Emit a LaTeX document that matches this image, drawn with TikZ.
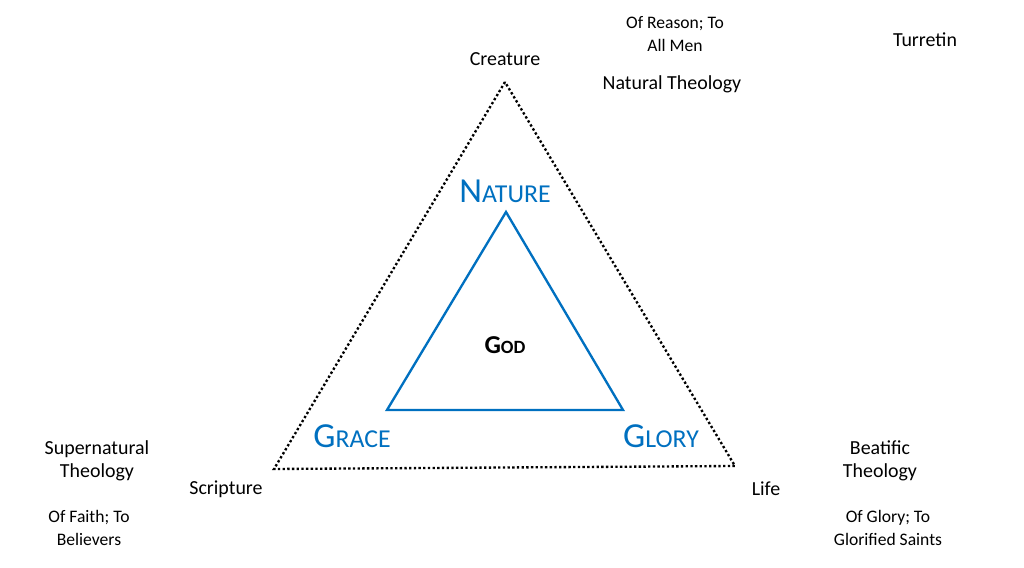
\documentclass[tikz,border=0pt]{standalone}
\usepackage{fontspec}
\setmainfont{Carlito}
\definecolor{accblue}{RGB}{0,112,192}
\newcommand{\fsc}[2]{{\fontsize{30}{30}\selectfont #1}{\fontsize{22}{22}\selectfont #2}}
\begin{document}
\begin{tikzpicture}
  [x=0.03cm,y=-0.03cm,every node/.style={align=center,font=\fontsize{17}{20}\selectfont},
   small/.style={font=\fontsize{15}{19}\selectfont},
   blue label/.style={text=accblue}]
  \useasboundingbox (0,0) rectangle (1024,568);
  \coordinate (o1) at (505,82);
  \coordinate (o2) at (274,469);
  \coordinate (o3) at (735,466);
  \coordinate (i1) at (506,212);
  \coordinate (i2) at (387,410);
  \coordinate (i3) at (623,410);

  \draw[line width=2pt,dotted] (o1) -- (o2) -- (o3) -- cycle;
  \draw[line width=2pt,accblue] (i1) -- (i2) -- (i3) -- cycle;

  \node (nature) at (505,191) [blue label] {\fsc{N}{ATURE}};
  \node (grace) at (352,436) [blue label] {\fsc{G}{RACE}};
  \node (glory) at (661,436) [blue label] {\fsc{G}{LORY}};
  \node (god) at (505,345) {\bfseries{\fontsize{22}{22}\selectfont G}{\fontsize{16}{16}\selectfont OD}};

  \node (creature) at (505,59) {Creature};
  \node (scripture) at (226,489) {Scripture};
  \node (life) at (766,489) {Life};
  \node (turretin) at (925,40) {Turretin};
  \node (natural) at (672,84) {Natural Theology};
  \node (reason) at (675,34) [small] {Of Reason; To\\All Men};
  \node (supernat) at (97,461) {Supernatural\\Theology};
  \node (faith) at (89,528) [small] {Of Faith; To\\Believers};
  \node (beatific) at (880,461) {Beatific\\Theology};
  \node (gloryto) at (888,528) [small] {Of Glory; To\\Glorified Saints};
\end{tikzpicture}
\end{document}
